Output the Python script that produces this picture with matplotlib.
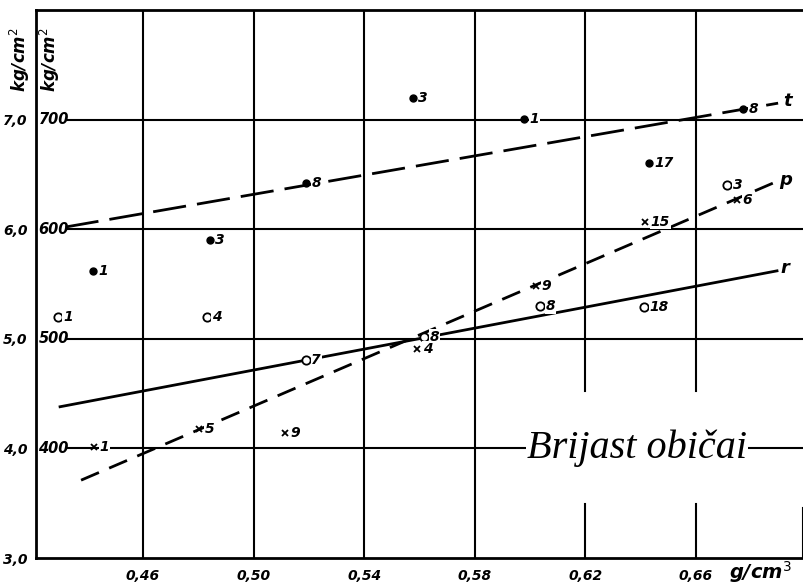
import numpy as np
import matplotlib.pyplot as plt

# data (density g/cm3, strength kg/cm2)
filled_x = [0.4419, 0.4842, 0.5189, 0.5576, 0.5978, 0.6431, 0.6770]
filled_y = [562, 590, 642, 720, 701, 660, 710]
filled_n = ['1', '3', '8', '3', '1', '17', '8']

open_x = [0.4291, 0.4830, 0.5189, 0.5616, 0.6036, 0.6412, 0.6712]
open_y = [520, 520, 481, 502, 530, 529, 640]
open_n = ['1', '4', '7', '8', '8', '18', '3']

cross_x = [0.4423, 0.4804, 0.5114, 0.5591, 0.6021, 0.6416, 0.6749]
cross_y = [401, 418, 414, 491, 548, 607, 627]
cross_n = ['1', '5', '9', '4', '9', '15', '6']

# fitted lines (end points)
t_x = [0.432, 0.6897]
t_y = [602, 715]
p_x = [0.4376, 0.6878]
p_y = [371, 642]
r_x = [0.430, 0.6893]
r_y = [438, 562]

xticks = [0.46, 0.50, 0.54, 0.58, 0.62, 0.66]
xlabels = ['0,46', '0,50', '0,54', '0,58', '0,62', '0,66']
yticks = [300, 400, 500, 600, 700]
ylabels_out = ['3,0', '4,0', '5,0', '6,0', '7,0']
ylabels_in = ['400', '500', '600', '700']

xmin, xmax = 0.4213, 0.6987
ymin, ymax = 300, 800

fig = plt.figure(figsize=(8.04, 5.86), dpi=100)
ax = fig.add_axes([36/804, 1-558/586, (803-36)/804, (558-10)/586])
ax.set_xlim(xmin, xmax)
ax.set_ylim(ymin, ymax)

for s in ['left', 'bottom', 'top']:
    ax.spines[s].set_linewidth(2)
ax.spines['right'].set_visible(False)
ax.plot([xmax, xmax], [300, 346], color='k', lw=1.5, clip_on=False)

# grid
for xv in xticks[:4]:
    ax.plot([xv, xv], [ymin, ymax], color='k', lw=1.5)
for xv in xticks[4:]:
    ax.plot([xv, xv], [452, ymax], color='k', lw=1.5)
    ax.plot([xv, xv], [ymin, 349], color='k', lw=1.5)
for yv in yticks[1:]:
    ax.plot([0.4325, xmax], [yv, yv], color='k', lw=1.5)

fnt = dict(fontstyle='italic', fontweight='bold', family='DejaVu Sans')

ax.set_xticks(xticks)
ax.set_xticklabels(xlabels, fontsize=10, **fnt)
ax.set_yticks(yticks)
ax.set_yticklabels(ylabels_out, fontsize=10, **fnt)
ax.tick_params(length=0, pad=6)
ax.tick_params(axis='x', pad=8)
for yv, lab in zip(yticks[1:], ylabels_in):
    ax.text(0.4222, yv, lab, ha='left', va='center', fontsize=10.5, **fnt)

fig.text(760/804, 1-572/586, 'g/cm$^{3}$', ha='center', va='center', fontsize=14, **fnt)
fig.text(20/804, 1-60/586, 'kg/cm$^{2}$', rotation=90, ha='center', va='center', fontsize=12, **fnt)
fig.text(50/804, 1-60/586, 'kg/cm$^{2}$', rotation=90, ha='center', va='center', fontsize=12, **fnt)

# lines
ax.plot(t_x, t_y, color='k', lw=2, dashes=(12, 4))
ax.plot(p_x, p_y, color='k', lw=2, dashes=(7, 4))
ax.plot(r_x, r_y, color='k', lw=2)
ax.text(0.6915, 717, 't', fontsize=13, ha='left', va='center', **fnt)
ax.text(0.6900, 645, 'p', fontsize=13, ha='left', va='center', **fnt)
ax.text(0.6905, 565, 'r', fontsize=13, ha='left', va='center', **fnt)

# points
ax.plot(filled_x, filled_y, 'o', color='k', ms=5, zorder=5)
ax.plot(open_x, open_y, 'o', mfc='white', mec='k', mew=1.3, ms=6, zorder=5)
ax.plot(cross_x, cross_y, 'x', color='k', ms=4, mew=1.3, zorder=5)

lab_kw = dict(textcoords='offset points', ha='left', va='center', fontsize=10, zorder=6,
              bbox=dict(facecolor='white', edgecolor='none', pad=0.5), **fnt)
for xs, ys, ns in [(filled_x, filled_y, filled_n), (open_x, open_y, open_n), (cross_x, cross_y, cross_n)]:
    for xv, yv, n in zip(xs, ys, ns):
        ax.annotate(n, (xv, yv), xytext=(4, 0), **lab_kw)

ax.text(0.6387, 400, 'Brijast običai', ha='center', va='center', fontsize=29,
        fontstyle='italic', family='Liberation Serif', zorder=7,
        bbox=dict(facecolor='white', edgecolor='none', pad=1))

fig.savefig('out.png', dpi=100)
